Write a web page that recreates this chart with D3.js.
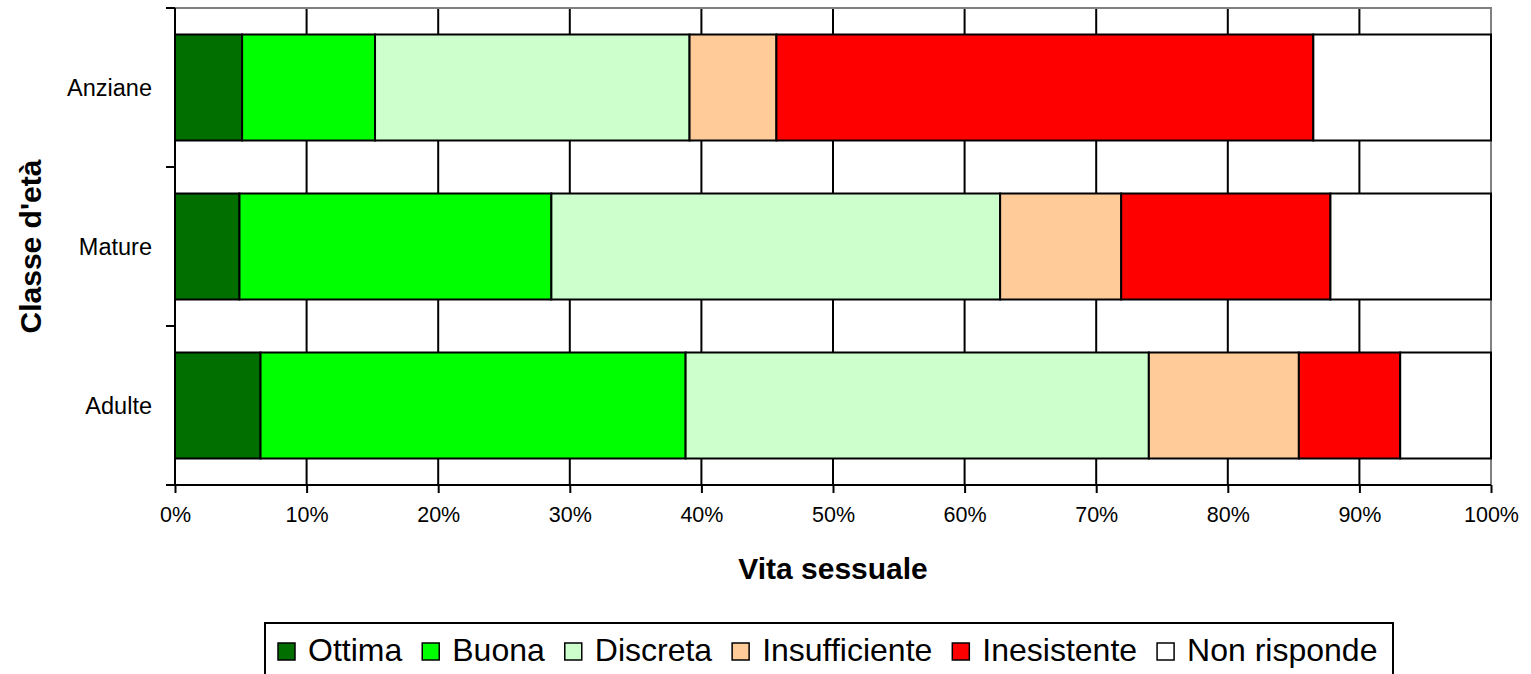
<!DOCTYPE html>
<html><head><meta charset="utf-8">
<script src="https://cdn.jsdelivr.net/npm/d3@7"></script>
<style>body{margin:0;background:#fff}svg{display:block;font-family:"Liberation Sans",Arial,sans-serif}</style>
</head><body>
<svg id="c" width="1531" height="674"></svg>
<script>
const categories = ["Anziane", "Mature", "Adulte"];
const seriesNames = ["Ottima", "Buona", "Discreta", "Insufficiente", "Inesistente", "Non risponde"];
const seriesColors = ["#006F00", "#00FF00", "#CCFFCC", "#FFCC99", "#FF0000", "#FFFFFF"];
const ottima        = [5.1, 4.9, 6.5];
const buona         = [10.1, 23.7, 32.3];
const discreta      = [23.9, 34.1, 35.2];
const insufficiente = [6.6, 9.2, 11.4];
const inesistente   = [40.8, 15.9, 7.7];
const nonRisponde   = [13.5, 12.2, 6.9];
const tickValues = [0,10,20,30,40,50,60,70,80,90,100];

const seriesValues = [ottima, buona, discreta, insufficiente, inesistente, nonRisponde];
const svg = d3.select("#c");
const L = 175, R = 1491, T = 8, B = 485;
const x = d3.scaleLinear().domain([0, 100]).range([L, R]);
const y = d3.scaleBand().domain(categories).range([T, B]).paddingInner(1/3).paddingOuter(1/6);

// gridlines
svg.append("g").selectAll("line").data(tickValues.slice(1, -1)).join("line")
  .attr("x1", d => x(d)).attr("x2", d => x(d)).attr("y1", T).attr("y2", B)
  .attr("stroke", "#000").attr("stroke-width", 2);
// top & right border
svg.append("path").attr("d", `M${L},${T}H${R}V${B}`).attr("fill", "none").attr("stroke", "#808080").attr("stroke-width", 2);

// stacked bars
const rows = categories.map((c, i) => {
  const o = {cat: c};
  seriesNames.forEach((s, j) => o[s] = seriesValues[j][i]);
  return o;
});
const stack = d3.stack().keys(seriesNames)(rows);
stack.forEach((layer, j) => {
  svg.append("g").selectAll("rect").data(layer).join("rect")
    .attr("x", d => x(d[0])).attr("width", d => x(d[1]) - x(d[0]))
    .attr("y", d => y(d.data.cat)).attr("height", y.bandwidth())
    .attr("fill", seriesColors[j]).attr("stroke", "#000").attr("stroke-width", 2);
});

// x axis
const xAxis = svg.append("g").attr("transform", `translate(0,${B})`)
  .call(d3.axisBottom(x).tickValues(tickValues).tickFormat(d => d + "%").tickSize(8).tickPadding(14));
xAxis.select(".domain").attr("stroke", "#000").attr("stroke-width", 2).attr("d", `M${L - 9},0H${R}`);
xAxis.selectAll(".tick line").attr("stroke", "#000").attr("stroke-width", 2);
xAxis.selectAll("text").attr("font-size", 21.5).attr("fill", "#000").attr("font-family", "Liberation Sans, Arial, sans-serif");

// y axis
const yAxisG = svg.append("g").attr("transform", `translate(${L},0)`);
yAxisG.append("line").attr("x1", 0).attr("x2", 0).attr("y1", T).attr("y2", B).attr("stroke", "#000").attr("stroke-width", 2);
const boundaries = [T].concat(categories.map(c => y(c) + y.bandwidth() + y.step() * y.paddingInner() / 2));
boundaries[boundaries.length - 1] = B;
yAxisG.selectAll("line.t").data(boundaries).join("line").attr("class", "t")
  .attr("x1", -9).attr("x2", 0).attr("y1", d => d).attr("y2", d => d).attr("stroke", "#000").attr("stroke-width", 2);
yAxisG.selectAll("text").data(categories).join("text")
  .attr("x", -23).attr("y", d => y(d) + y.bandwidth() / 2).attr("dy", "0.35em")
  .attr("text-anchor", "end").attr("font-size", 23.5).text(d => d);

// axis titles
svg.append("text").attr("x", (L + R) / 2).attr("y", 579).attr("text-anchor", "middle")
  .attr("font-size", 30).attr("font-weight", "bold").text("Vita sessuale");
svg.append("text").attr("transform", `translate(41,${(T + B) / 2}) rotate(-90)`).attr("text-anchor", "middle")
  .attr("font-size", 30).attr("font-weight", "bold").text("Classe d'età");

// legend
const lg = svg.append("g");
lg.append("rect").attr("x", 265).attr("y", 623).attr("width", 1128).attr("height", 80)
  .attr("fill", "#fff").attr("stroke", "#000").attr("stroke-width", 2);
let lx = 278;
seriesNames.forEach((s, j) => {
  lg.append("rect").attr("x", lx).attr("y", 643).attr("width", 17).attr("height", 17)
    .attr("fill", seriesColors[j]).attr("stroke", "#000").attr("stroke-width", 1.5);
  const t = lg.append("text").attr("x", lx + 30).attr("y", 661).attr("font-size", 32).text(s);
  lx = lx + 30 + t.node().getComputedTextLength() + 20;
});
</script>
</body></html>
